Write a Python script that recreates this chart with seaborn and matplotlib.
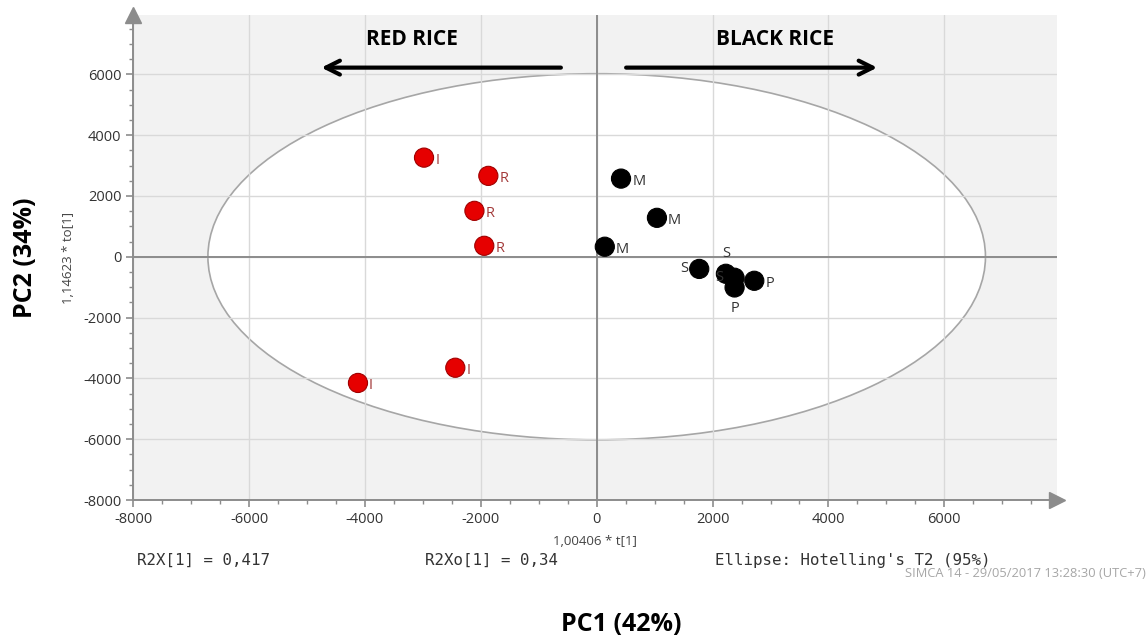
import numpy as np
import pandas as pd
import seaborn as sns
import matplotlib.pyplot as plt
from matplotlib.patches import Ellipse
from matplotlib.ticker import MultipleLocator

# scores
pc1 = [-2980, -1870, -2110, -1940, -2440, -4120,
       420, 1040, 140, 1770, 2230, 2380, 2380, 2720]
pc2 = [3260, 2660, 1510, 360, -3650, -4150,
       2570, 1280, 330, -400, -560, -690, -1010, -790]
labels = ["I", "R", "R", "R", "I", "I",
          "M", "M", "M", "S", "S", "S", "P", "P"]
group = ["Red rice"] * 6 + ["Black rice"] * 8

# where each label sits relative to its dot
label_pos = ["right"] * 9 + ["left", "above", "left", "below", "right"]

df = pd.DataFrame({"pc1": pc1, "pc2": pc2, "label": labels, "group": group})

sns.set_theme(style="white")
plt.rcParams["font.family"] = ["Open Sans", "DejaVu Sans"]
plt.rcParams["axes.unicode_minus"] = False

fig = plt.figure(figsize=(11.48, 6.39), dpi=100)
ax = fig.add_axes([0.116, 0.2175, 0.805, 0.759])
ax.set_facecolor("#f2f2f2")

# Hotelling T2 ellipse (under the grid)
ax.add_patch(Ellipse((0, 0), 2 * 6710, 2 * 6020, facecolor="white",
                     edgecolor="#a6a6a6", lw=1.2, zorder=-1))

ax.set_xlim(-8000, 7950)
ax.set_ylim(-8000, 7950)
ax.xaxis.set_major_locator(MultipleLocator(2000))
ax.yaxis.set_major_locator(MultipleLocator(2000))
ax.xaxis.set_minor_locator(MultipleLocator(500))
ax.yaxis.set_minor_locator(MultipleLocator(500))
ax.grid(True, which="major", color="#d9d9d9", lw=1)
ax.set_axisbelow(True)

ax.axhline(0, color="#8c8c8c", lw=1.4, zorder=1.5)
ax.axvline(0, color="#8c8c8c", lw=1.4, zorder=1.5)

sns.scatterplot(data=df, x="pc1", y="pc2", hue="group",
                palette={"Red rice": "#e60000", "Black rice": "black"},
                s=190, linewidth=0.8, edgecolor=None, legend=False, ax=ax, zorder=3)
for c in ax.collections:
    c.set_edgecolor(["#a00000" if g == "Red rice" else "black" for g in group])

offsets = {"right": (8, -2, "left", "center"),
           "left": (-8, 0, "right", "center"),
           "above": (0, 9, "center", "bottom"),
           "below": (0, -10, "center", "top")}
for x, y, lab, g, pos in zip(pc1, pc2, labels, group, label_pos):
    dx, dy, ha, va = offsets[pos]
    ax.annotate(lab, (x, y), xytext=(dx, dy), textcoords="offset points",
                ha=ha, va=va, fontsize=10.5,
                color="#a33a3a" if g == "Red rice" else "#333333", zorder=4)

# header arrows
ax.annotate("", xy=(-4800, 6220), xytext=(-570, 6220),
            arrowprops=dict(arrowstyle="->", lw=3, color="black",
                            mutation_scale=25), zorder=4)
ax.annotate("", xy=(4890, 6220), xytext=(460, 6220),
            arrowprops=dict(arrowstyle="->", lw=3, color="black",
                            mutation_scale=25), zorder=4)
ax.text(-3190, 7140, "RED RICE", fontsize=15, fontweight="bold", color="black",
        ha="center", va="center", zorder=4)
ax.text(3070, 7140, "BLACK RICE", fontsize=15, fontweight="bold", color="black",
        ha="center", va="center", zorder=4)

# axes styling with arrows
for side in ["top", "right"]:
    ax.spines[side].set_visible(False)
for side in ["left", "bottom"]:
    ax.spines[side].set_color("#8c8c8c")
    ax.spines[side].set_linewidth(1.4)
ax.plot(1, 0, ">", color="#8c8c8c", ms=11, transform=ax.transAxes, clip_on=False)
ax.plot(0, 1, "^", color="#8c8c8c", ms=11, transform=ax.transAxes, clip_on=False)
ax.tick_params(which="major", direction="out", length=5, width=1.2,
               color="#8c8c8c", labelsize=10.5, labelcolor="#333333",
               left=True, bottom=True)
ax.tick_params(which="minor", direction="out", length=3, width=1,
               color="#8c8c8c", left=True, bottom=True)

ax.set_xlabel("1,00406 * t[1]", fontsize=9.5, color="#444444", labelpad=6)
ax.set_ylabel("1,14623 * to[1]", fontsize=9.5, color="#444444", labelpad=6)

mono = ["DejaVu Sans Mono", "Liberation Mono"]
fig.text(0.119, 0.116, "R2X[1] = 0,417", family=mono, fontsize=11.3, color="#333333")
fig.text(0.370, 0.116, "R2Xo[1] = 0,34", family=mono, fontsize=11.3, color="#333333")
fig.text(0.623, 0.116, "Ellipse: Hotelling's T2 (95%)", family=mono, fontsize=11.3,
         color="#333333")
fig.text(0.788, 0.097, "SIMCA 14 - 29/05/2017 13:28:30 (UTC+7)", fontsize=9.3,
         color="#a6a6a6")

fig.text(0.022, 0.597, "PC2 (34%)", fontsize=18, fontweight="bold", color="black",
         rotation=90, ha="center", va="center")
fig.text(0.541, 0.022, "PC1 (42%)", fontsize=18, fontweight="bold", color="black",
         ha="center", va="center")

fig.savefig("out.png", dpi=100)
